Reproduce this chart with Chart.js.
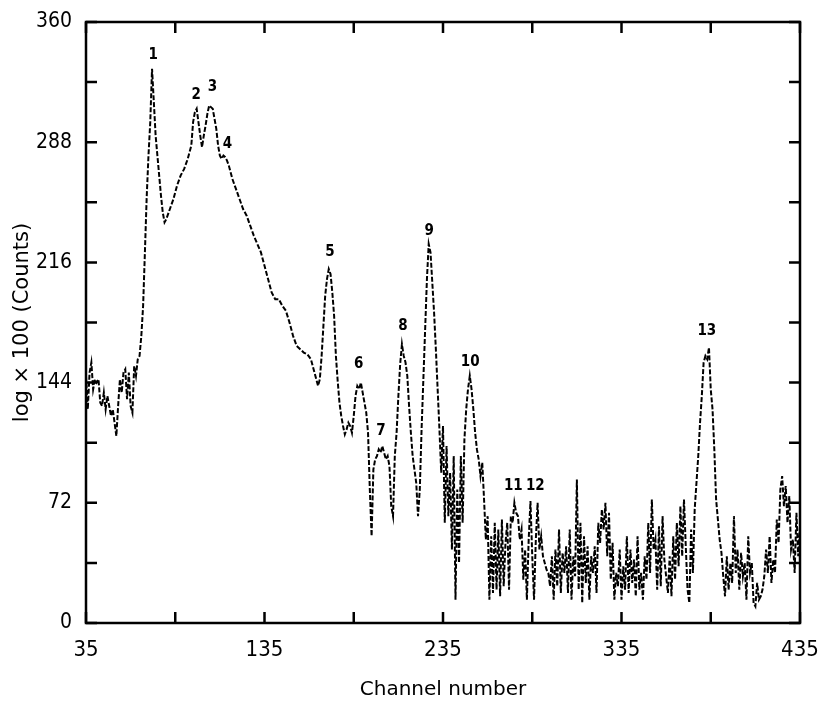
<!DOCTYPE html>
<html>
<head>
<meta charset="utf-8">
<script src="https://cdn.jsdelivr.net/npm/chart.js@4/dist/chart.umd.min.js"></script>
<style>
  body { margin: 0; background: #fff; }
</style>
</head>
<body>
<canvas id="spectrum" width="818" height="715"></canvas>
<script>
"use strict";
// Spectrum data (channel, log x 100 counts)
const channels = [
    35,36,37,38,39,40,41,42,43,44,45,46,47,48,49,50,51,52,53,54,55,56,57,58,59,60,
    61,62,63,64,65,66,67,68,69,70,71,72,73,74,75,76,77,78,79,80,82,84,86,88,90,92,
    94,95,96,97,98,99,100,101,102,103,104,105,106,107,108,109,110,111,112,113,114,115,
    117,119,121,123,125,127,129,131,133,135,137,139,141,143,145,147,149,151,153,155,
    157,159,161,163,165,166,167,168,169,170,171,172,173,174,175,176,177,178,179,180,
    181,182,183,184,185,186,187,188,189,190,191,192,193,194,195,196,197,198,199,200,
    201,202,203,204,205,206,207,208,209,210,211,212,213,214,215,216,217,218,219,220,
    221,222,223,224,225,226,227,228,229,230,231,232,233,234,235,236,237,238,239,240,
    241,242,243,244,245,246,247,248,249,250,251,252,253,254,255,256,257,258,259,260,
    261,262,263,264,265,266,267,268,269,270,271,272,273,274,275,276,277,278,279,280,
    281,282,283,284,285,286,287,288,289,290,291,292,293,294,295,296,297,298,299,300,
    301,302,303,304,305,306,307,308,309,310,311,312,313,314,315,316,317,318,319,320,
    321,322,323,324,325,326,327,328,329,330,331,332,333,334,335,336,337,338,339,340,
    341,342,343,344,345,346,347,348,349,350,351,352,353,354,355,356,357,358,359,360,
    361,362,363,364,365,366,367,368,369,370,371,372,373,374,375,376,377,378,379,380,
    381,382,383,384,385,386,387,388,389,390,391,392,393,394,395,396,397,398,399,400,
    401,402,403,404,405,406,407,408,409,410,411,412,413,414,415,416,417,418,419,420,
    421,422,423,424,425,426,427,428,429,430,431,432,433,434,435
];
const counts = [
    148,128,150,156,140,146,144,146,132,130,138,128,136,130,124,128,120,112,130,146,138,150,152,134,150,130,
    126,154,148,158,160,172,190,222,255,280,300,332,312,292,280,268,256,246,240,242,248,254,262,268,272,278,
    286,300,306,308,300,292,285,292,298,305,310,309,308,302,296,286,280,278,280,279,277,274,
    266,260,254,248,244,238,232,227,222,214,206,198,194,194,190,187,180,172,166,164,
    162,161,158,150,142,146,160,178,196,206,212,209,198,184,160,145,132,124,118,113,
    116,120,118,114,124,136,142,140,144,138,132,126,114,80,52,92,98,100,104,102,
    106,102,98,100,94,70,64,100,114,136,155,167,160,156,148,130,114,100,92,84,
    64,80,116,146,176,206,227,222,204,186,164,140,116,90,118,60,106,64,90,44,
    100,14,80,36,100,60,110,128,140,148,140,128,114,104,98,88,96,74,50,64,
    14,52,18,60,20,56,16,62,22,48,60,20,64,60,72,66,64,50,56,26,
    44,14,50,73,40,14,50,72,44,52,40,36,32,30,22,40,14,44,22,56,
    18,42,30,46,18,56,14,40,28,86,20,60,12,52,24,46,14,40,30,46,
    18,60,48,68,56,72,40,66,26,48,14,30,22,44,14,34,20,52,18,44,
    24,38,16,52,20,30,14,40,26,60,30,74,44,50,20,58,22,64,38,28,
    18,40,16,52,26,60,34,70,40,74,46,20,12,56,30,68,84,100,120,136,
    156,160,158,165,140,128,104,74,62,50,42,28,16,40,20,36,24,64,30,44,
    20,42,28,36,14,52,30,36,12,10,24,14,16,20,28,44,30,52,24,38,
    30,62,48,80,88,70,82,60,76,44,50,30,66,40,58
];

// Peak numbers and where their labels sit (channel, value)
const peakNames = ["1","2","3","4","5","6","7","8","9","10","11","12","13"];
const peakChan  = [72.6, 96.8, 105.8, 114.2, 171.6, 187.8, 200.2, 212.6, 227.2, 250.2, 274.4, 286.7, 382.8];
const peakLabelY = [340, 316, 321, 287, 222, 155, 115, 178, 235, 156, 82, 82, 175];

const narrow = "'DejaVu Sans Condensed', sans-serif";
const wide = "'DejaVu Sans', sans-serif";

// box with inward ticks on all four sides + peak numbers
const framePlugin = {
    id: 'frame',
    afterDatasetsDraw(chart) {
        const ctx = chart.ctx;
        const a = chart.chartArea;
        const xs = chart.scales.x, ys = chart.scales.y;
        const len = 11;
        ctx.save();
        ctx.strokeStyle = '#000';
        ctx.lineWidth = 2.5;
        ctx.strokeRect(a.left, a.top, a.right - a.left, a.bottom - a.top);
        ctx.beginPath();
        xs.ticks.forEach(t => {
            const px = xs.getPixelForValue(t.value);
            ctx.moveTo(px, a.bottom); ctx.lineTo(px, a.bottom - len);
            ctx.moveTo(px, a.top); ctx.lineTo(px, a.top + len);
        });
        ys.ticks.forEach(t => {
            const py = ys.getPixelForValue(t.value);
            ctx.moveTo(a.left, py); ctx.lineTo(a.left + len, py);
            ctx.moveTo(a.right, py); ctx.lineTo(a.right - len, py);
        });
        ctx.stroke();

        ctx.fillStyle = '#000';
        ctx.font = 'bold 15px ' + narrow;
        ctx.textAlign = 'center';
        ctx.textBaseline = 'middle';
        peakNames.forEach((name, i) => {
            ctx.fillText(name, xs.getPixelForValue(peakChan[i]), ys.getPixelForValue(peakLabelY[i]));
        });
        ctx.restore();
    }
};

const points = channels.map((c, i) => ({ x: c, y: counts[i] }));

const spectrumChart = new Chart(document.getElementById('spectrum'), {
    type: 'line',
    data: {
        datasets: [{
            data: points,
            borderColor: '#000',
            borderWidth: 2,
            borderDash: [5, 2],
            pointRadius: 0,
            tension: 0,
            fill: false
        }]
    },
    options: {
        responsive: false,
        animation: false,
        layout: { padding: { top: 22, right: 18, left: 0, bottom: 0 } },
        plugins: { legend: { display: false }, tooltip: { enabled: false } },
        scales: {
            x: {
                type: 'linear',
                min: 35,
                max: 435,
                grid: { display: false },
                border: { display: false },
                ticks: {
                    stepSize: 50,
                    padding: 6,
                    maxRotation: 0,
                    color: '#000',
                    font: { family: narrow, size: 22 },
                    callback: v => ((v - 35) % 100 === 0 ? v : '')
                },
                title: {
                    display: true,
                    text: 'Channel number',
                    color: '#000',
                    font: { family: wide, size: 20 },
                    padding: { top: 2, bottom: 13 }
                },
                afterFit(scale) {
                    scale.height = 92;
                    scale.paddingLeft = 0;
                    scale.paddingRight = 0;
                }
            },
            y: {
                min: 0,
                max: 360,
                grid: { display: false },
                border: { display: false },
                ticks: {
                    stepSize: 36,
                    padding: 6,
                    color: '#000',
                    font: { family: narrow, size: 21 },
                    callback: v => (v % 72 === 0 ? v : '')
                },
                title: {
                    display: true,
                    text: 'log × 100 (Counts)',
                    color: '#000',
                    font: { family: wide, size: 21 },
                    padding: { top: 10, bottom: 0 }
                },
                afterFit(scale) {
                    scale.width = 86;
                    scale.paddingTop = 0;
                    scale.paddingBottom = 0;
                }
            }
        }
    },
    plugins: [framePlugin]
});
</script>
</body>
</html>
